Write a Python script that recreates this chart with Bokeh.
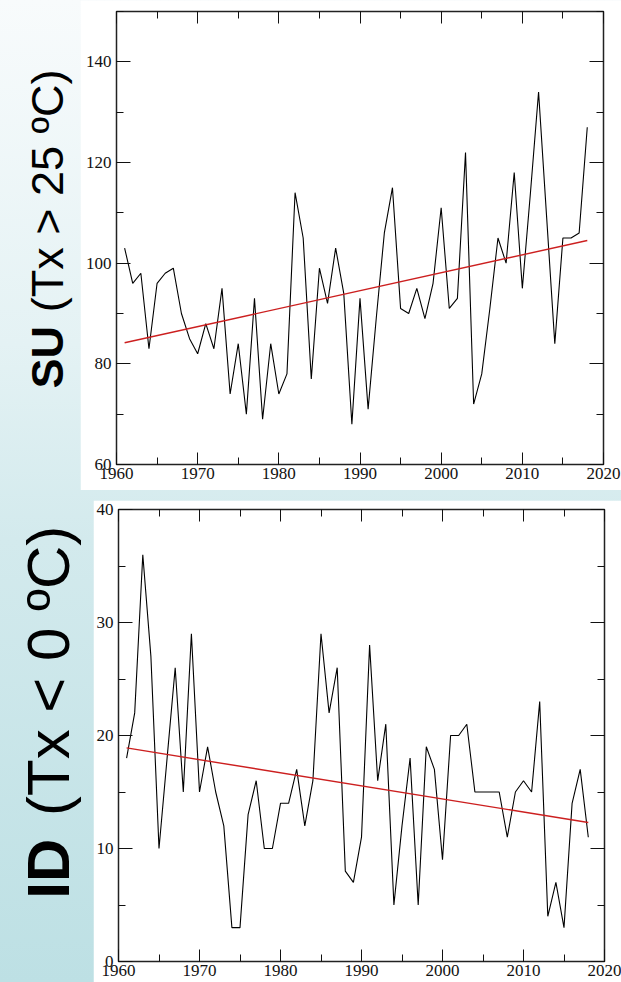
import numpy as np
from bokeh.plotting import figure
from bokeh.models import (Range1d, LinearAxis, SingleIntervalTicker, ColumnDataSource,
                          Label, Spacer, CustomJSTickFormatter)
from bokeh.layouts import row, column
from bokeh.embed import file_html
from bokeh.resources import INLINE

# ---------------- data ----------------
years = list(range(1961, 2019))
su_days = [103, 96, 98, 83, 96, 98, 99, 90, 85, 82,
           88, 83, 95, 74, 84, 70, 93, 69, 84, 74,
           78, 114, 105, 77, 99, 92, 103, 94, 68, 93,
           71, 89, 106, 115, 91, 90, 95, 89, 96, 111,
           91, 93, 122, 72, 78, 91, 105, 100, 118, 95,
           114, 134, 109, 84, 105, 105, 106, 127]
id_days = [18, 22, 36, 27, 10, 18, 26, 15, 29, 15,
           19, 15, 12, 3, 3, 13, 16, 10, 10, 14,
           14, 17, 12, 16, 29, 22, 26, 8, 7, 11,
           28, 16, 21, 5, 12, 18, 5, 19, 17, 9,
           20, 20, 21, 15, 15, 15, 15, 11, 15, 16,
           15, 23, 4, 7, 3, 14, 17, 11]
trend_years = [1961, 2018]
su_trend = [84.2, 104.5]
id_trend = [18.9, 12.3]

su_label_bold = "SU"
su_label_rest = "(Tx > 25 ºC)"
id_label_bold = "ID"
id_label_rest = "(Tx < 0 ºC)"

TICK_FONT = "Liberation Serif"
LABEL_FONT = "Liberation Sans"


def chart(width, height, yr, yint, vals, trend, borders):
    left, right, top, bottom = borders
    p = figure(width=width, height=height, output_backend="svg", toolbar_location=None,
               x_range=Range1d(1960, 2020), y_range=Range1d(*yr),
               min_border_left=left, min_border_right=right,
               min_border_top=top, min_border_bottom=bottom,
               x_axis_location=None, y_axis_location=None)
    p.border_fill_color = "white"
    p.background_fill_color = "white"
    p.outline_line_color = "#222222"
    p.outline_line_width = 1.5
    p.xgrid.visible = False
    p.ygrid.visible = False

    empty = CustomJSTickFormatter(code="return ''")
    for loc in ("below", "above"):
        ax = LinearAxis(ticker=SingleIntervalTicker(interval=10, num_minor_ticks=2))
        ax.axis_line_color = None
        ax.major_tick_in = 12
        ax.major_tick_out = 0
        ax.minor_tick_in = 7
        ax.minor_tick_out = 0
        ax.major_tick_line_color = "#111111"
        ax.minor_tick_line_color = "#111111"
        if loc == "below":
            ax.major_label_text_font = TICK_FONT
            ax.major_label_text_font_size = "17px"
            ax.major_label_text_color = "#111111"
            ax.major_label_standoff = 3
        else:
            ax.formatter = empty
            ax.major_label_text_font_size = "0px"
            ax.major_label_standoff = 0
        p.add_layout(ax, loc)
    for loc in ("left", "right"):
        ax = LinearAxis(ticker=SingleIntervalTicker(interval=yint, num_minor_ticks=2))
        ax.axis_line_color = None
        ax.major_tick_in = 14
        ax.major_tick_out = 0
        ax.minor_tick_in = 7
        ax.minor_tick_out = 0
        ax.major_tick_line_color = "#111111"
        ax.minor_tick_line_color = "#111111"
        if loc == "left":
            ax.major_label_text_font = TICK_FONT
            ax.major_label_text_font_size = "17px"
            ax.major_label_text_color = "#111111"
            ax.major_label_standoff = 5
        else:
            ax.formatter = empty
            ax.major_label_text_font_size = "0px"
            ax.major_label_standoff = 0
        p.add_layout(ax, loc)

    src = ColumnDataSource(dict(x=years, y=vals))
    p.line("x", "y", source=src, line_color="black", line_width=1.1)
    tsrc = ColumnDataSource(dict(x=trend_years, y=trend))
    p.line("x", "y", source=tsrc, line_color="#cc1f1f", line_width=1.4)
    return p


def label_fig(width, height, bold, rest, xc, y_bold, y_rest, size):
    p = figure(width=width, height=height, output_backend="svg", toolbar_location=None,
               x_range=Range1d(0, width), y_range=Range1d(0, height),
               min_border=0, x_axis_location=None, y_axis_location=None)
    p.border_fill_color = None
    p.background_fill_color = None
    p.outline_line_color = None
    p.xgrid.visible = False
    p.ygrid.visible = False
    p.add_layout(Label(x=xc, y=y_bold, text=bold, angle=np.pi / 2,
                       text_font=LABEL_FONT, text_font_size=size, text_font_style="bold",
                       text_color="black", text_baseline="middle", text_align="center"))
    p.add_layout(Label(x=xc, y=y_rest, text=rest, angle=np.pi / 2,
                       text_font=LABEL_FONT, text_font_size=size, text_font_style="normal",
                       text_color="black", text_baseline="middle", text_align="center"))
    return p


top_chart = chart(541, 490, (60, 150), 20, su_days, su_trend, (36, 18, 11, 26))
bot_chart = chart(528, 482, (0, 40), 10, id_days, id_trend, (25, 17, 9, 21))

top_lab = label_fig(80, 490, su_label_bold, su_label_rest, 46.5, 116, 296, "45px")
bot_lab = label_fig(93, 482, id_label_bold, id_label_rest, 48, 99, 310, "60px")

layout = column(
    row(top_lab, top_chart),
    Spacer(width=621, height=10),
    row(bot_lab, bot_chart),
    styles={"background": "linear-gradient(180deg, #f8fbfc 0%, #e4f2f4 35%, #d3eaed 55%, #bde0e4 100%)"},
)

open("out.html", "w").write(file_html(layout, INLINE))
